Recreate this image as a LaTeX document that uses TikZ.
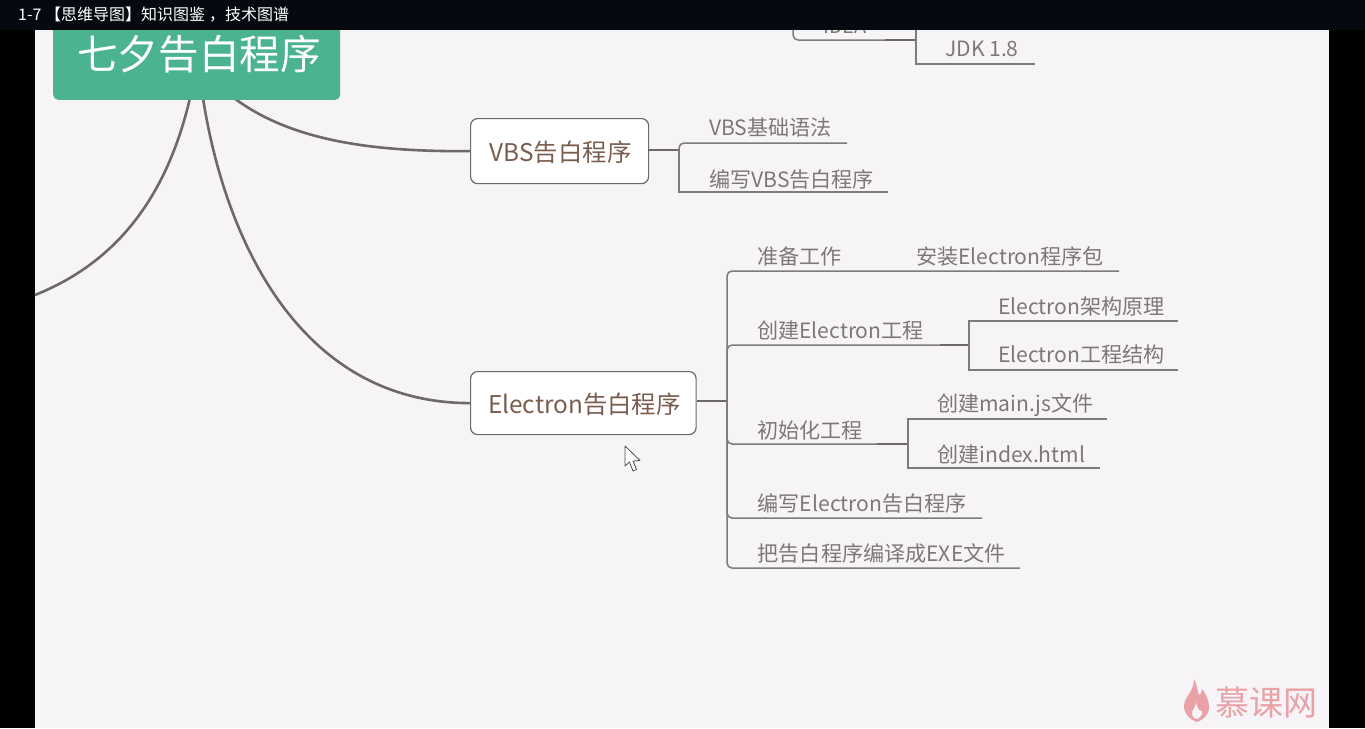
\documentclass[tikz,border=0pt]{standalone}
\usepackage{fontspec}
\setmainfont{Noto Sans CJK SC}
\definecolor{pagegrey}{HTML}{F6F4F7}
\definecolor{bargrey}{HTML}{060A10}
\definecolor{rootgreen}{HTML}{4BB38D}
\definecolor{linegrey}{HTML}{7E7B7C}
\definecolor{curvegrey}{HTML}{6C6968}
\definecolor{textgrey}{HTML}{7C7879}
\definecolor{brown}{HTML}{7A5D4E}
\definecolor{logopink}{HTML}{E9A2A7}
\tikzset{
  branch/.style={draw=linegrey,line width=1.5pt,rounded corners=5pt},
  stub/.style={draw=curvegrey,line width=2.3pt},
  curve/.style={draw=curvegrey,line width=2.6pt},
  topic/.style={draw=curvegrey,line width=1.2pt,fill=white,rounded corners=7pt,text=brown,
    font=\fontsize{24.4}{28}\selectfont,inner sep=0pt,anchor=north west,text height=24pt,text depth=3pt},
  leaf/.style={text=textgrey,font=\fontsize{21.1}{25}\selectfont,inner sep=0pt,anchor=west},
}
\begin{document}
\begin{tikzpicture}[x=1pt,y=-1pt]
  \useasboundingbox (0,0) rectangle (1365,728);
  \fill[black] (0,0) rectangle (1365,728);
  \fill[pagegrey] (35,0) rectangle (1329,728);
  % connectors from the root
  \coordinate (rootL) at (190,98);
  \coordinate (rootM) at (203,98);
  \coordinate (rootR) at (234,98);
  \coordinate (leftEnd) at (35,295);
  \node[topic,minimum width=178pt,minimum height=65pt] (vbs) at (470,118) {\hspace{2pt}VBS告白程序};
  \node[topic,minimum width=225.5pt,minimum height=63pt] (electron) at (470,371) {\hspace{2pt}Electron告白程序};
  \draw[curve] (rootL) .. controls (165,205) and (110,265) .. (leftEnd);
  \draw[curve] (rootM) .. controls (225,240) and (300,403) .. (electron.west);
  \draw[curve] (rootR) .. controls (290,140) and (370,152) .. (vbs.west);
  \node[fill=rootgreen,rounded corners=5pt,minimum width=287pt,minimum height=90pt,inner sep=0pt,anchor=south west] (root) at (53,100) {};
  \node[text=white,font=\fontsize{40.6}{46}\selectfont,inner sep=0pt] (rootText) at (199,54) {七夕告白程序};
  % VBS branch
  \coordinate (vbsFork) at (679,150);
  \coordinate (vbsA) at (847,143);
  \coordinate (vbsB) at (888,192);
  \draw[stub] (vbs.east |- vbsFork) -- (vbsFork);
  \draw[branch] (vbsFork) |- (vbsA);
  \draw[branch,rounded corners=0pt] (vbsFork) |- (vbsB);
  \node[leaf] (vbsAText) at (709,127.5) {VBS基础语法};
  \node[leaf] (vbsBText) at (709,179.5) {编写VBS告白程序};
  % Electron branch
  \coordinate (trunk) at (727,401);
  \coordinate (prepEnd) at (1119,271);
  \coordinate (create) at (940,345);
  \coordinate (createFork) at (969,345);
  \coordinate (init) at (877,444);
  \coordinate (initFork) at (908,444);
  \coordinate (write) at (982,518);
  \coordinate (build) at (1020,568);
  \draw[stub] (electron.east |- trunk) -- (trunk);
  \draw[branch] (trunk) |- (prepEnd);
  \draw[branch] (trunk) |- (create);
  \draw[branch] (trunk) -- (727,444) -- (init);
  \draw[branch] (trunk) |- (write);
  \draw[branch] (trunk) |- (build);
  \draw[stub] (create) -- (createFork);
  \draw[stub] (init) -- (initFork);
  \coordinate (archEnd) at (1178,321);
  \coordinate (projEnd) at (1178,370);
  \coordinate (mainEnd) at (1107,419);
  \coordinate (indexEnd) at (1100,468);
  \draw[branch,rounded corners=0pt] (createFork) |- (archEnd);
  \draw[branch,rounded corners=0pt] (createFork) |- (projEnd);
  \draw[branch,rounded corners=0pt] (initFork) |- (mainEnd);
  \draw[branch,rounded corners=0pt] (initFork) |- (indexEnd);
  \node[leaf] (prepText) at (757,256) {准备工作};
  \node[leaf] (setupText) at (916,256) {安装Electron程序包};
  \node[leaf] (createText) at (757,330.5) {创建Electron工程};
  \node[leaf] (archText) at (998,306) {Electron架构原理};
  \node[leaf] (projText) at (998,354.5) {Electron工程结构};
  \node[leaf] (initText) at (757,430.5) {初始化工程};
  \node[leaf] (mainText) at (937,405) {创建main.js文件};
  \node[leaf] (indexText) at (937,454.5) {创建index.html};
  \node[leaf] (writeText) at (757.5,503.5) {编写Electron告白程序};
  \node[leaf] (buildText) at (757.5,553.5) {把告白程序编译成EXE文件};
  % IDEA box and JDK, cut by the top bar
  \coordinate (ideaEnd) at (885,40);
  \coordinate (jdkFork) at (916,40);
  \coordinate (jdkEnd) at (1035,64);
  \node[leaf,font=\fontsize{20}{24}\selectfont] (ideaText) at (823,26) {IDEA};
  \draw[branch] (793,20) |- (ideaEnd);
  \draw[stub] (ideaEnd) -- (jdkFork);
  \draw[branch,rounded corners=0pt] (jdkFork) -- (916,20);
  \draw[branch,rounded corners=0pt] (jdkFork) |- (jdkEnd);
  \node[leaf] (jdkText) at (945,49) {JDK 1.8};
  % mouse pointer
  \draw[draw=black!70,fill=white,line width=0.8pt,line join=round]
    (625,446) -- (625,466) -- (629.5,462) -- (633,471) -- (636.5,469.5) -- (633,461) -- (640,460.5) -- cycle;
  % logo
  \fill[logopink,even odd rule] (1194,679) .. controls (1198,686) and (1197,692) .. (1199,695)
    .. controls (1201,695) and (1202,692) .. (1202,689) .. controls (1206,694) and (1209,700) .. (1209,707)
    .. controls (1209,715) and (1203,720) .. (1197,722) .. controls (1190,720) and (1184,714) .. (1184,706)
    .. controls (1184,697) and (1194,692) .. (1194,679)
    (1196,702) .. controls (1196,707) and (1191,710) .. (1192,715) .. controls (1193,718) and (1195,719) .. (1197,719)
    .. controls (1200,718) and (1203,715) .. (1202,711) .. controls (1199,711) and (1197,707) .. (1196,702);
  \node[text=logopink,font=\fontsize{34}{38}\selectfont,inner sep=0pt] (logoText) at (1266,703) {慕课网};
  % top bar
  \fill[bargrey] (0,0) rectangle (1365,30);
  \node[text=white,font=\fontsize{16}{18}\selectfont,inner sep=0pt,anchor=west] (title) at (18,15) {1-7 【思维导图】知识图鉴\hspace{4pt}，技术图谱};
\end{tikzpicture}
\end{document}
